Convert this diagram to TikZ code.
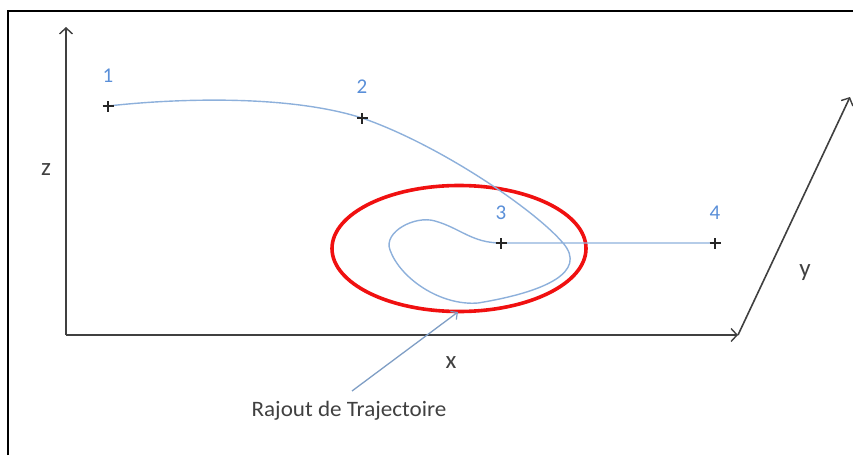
\documentclass[tikz,border=0pt]{standalone}
\usepackage{fontspec}
\setmainfont{Carlito}
\usetikzlibrary{arrows.meta}
\definecolor{axisgray}{HTML}{404040}
\definecolor{traj}{HTML}{8DB0DB}
\definecolor{lbl}{HTML}{5A8FD8}
\definecolor{ringred}{HTML}{F01010}
\tikzset{
  axis/.style={draw=axisgray, line width=1.6pt, -{Straight Barb[length=6pt,width=13pt,line width=1.4pt]}},
  trajline/.style={draw=traj, line width=1.4pt},
  numlbl/.style={text=lbl, font=\fontsize{21}{21}\selectfont, inner sep=0pt},
  axlbl/.style={text=axisgray, font=\fontsize{25}{25}\selectfont, inner sep=0pt},
  plusmark/.style={draw=black!85, line width=1.4pt},
}
\begin{document}
\begin{tikzpicture}[x=1pt,y=-1pt]
\useasboundingbox (0,0) rectangle (853,455);
% frame
\draw[black, line width=2pt] (8,455) -- (8,11) -- (853,11);
% axes
\coordinate (o) at (66,335);
\coordinate (ztip) at (66,27);
\coordinate (xend) at (738,335);
\coordinate (ytip) at (850,97);
\draw[axis] (o) -- (ztip);
\draw[axis] (o) -- (xend);
\draw[axis] (xend) -- (ytip);
\node[axlbl] (zl) at (46,170) {z};
\node[axlbl] (xl) at (451,363) {x};
\node[axlbl] (yl) at (805,273) {y};
% points
\coordinate (p1) at (108,106);
\coordinate (p2) at (362,118);
\coordinate (p3) at (501,243);
\coordinate (p4) at (715,243);
% red ring
\draw[ringred, line width=3.6pt] (459,248.5) ellipse [x radius=127, y radius=63];
% trajectory
\draw[trajline] (p1) .. controls (180,98) and (290,95) .. (p2)
  .. controls (440,145) and (535,210) .. (563,243)
  .. controls (588,272) and (545,292) .. (478,303)
  .. controls (440,306) and (400,278) .. (390,250)
  .. controls (383,232) and (415,215) .. (435,221)
  .. controls (460,228) and (472,243) .. (p3) -- (p4);
% plus marks
\foreach \p in {p1,p2,p3,p4}{
  \draw[plusmark] ([xshift=-5.5pt]\p) -- ([xshift=5.5pt]\p);
  \draw[plusmark] ([yshift=-5.5pt]\p) -- ([yshift=5.5pt]\p);
}
\node[numlbl] (l1) at (108,76) {1};
\node[numlbl] (l2) at (362,87) {2};
\node[numlbl] (l3) at (501,213) {3};
\node[numlbl] (l4) at (715,213) {4};
% annotation
\node[text=axisgray, font=\fontsize{22}{22}\selectfont, inner sep=0pt, xscale=1.05] (ann) at (349,411) {Rajout de Trajectoire};
\coordinate (annstart) at (352,391);
\coordinate (annend) at (458,312);
\draw[draw=traj!90!black, line width=1.3pt, -{Straight Barb[length=5pt,width=10pt,line width=1.2pt]}] (annstart) -- (annend);
\end{tikzpicture}
\end{document}
